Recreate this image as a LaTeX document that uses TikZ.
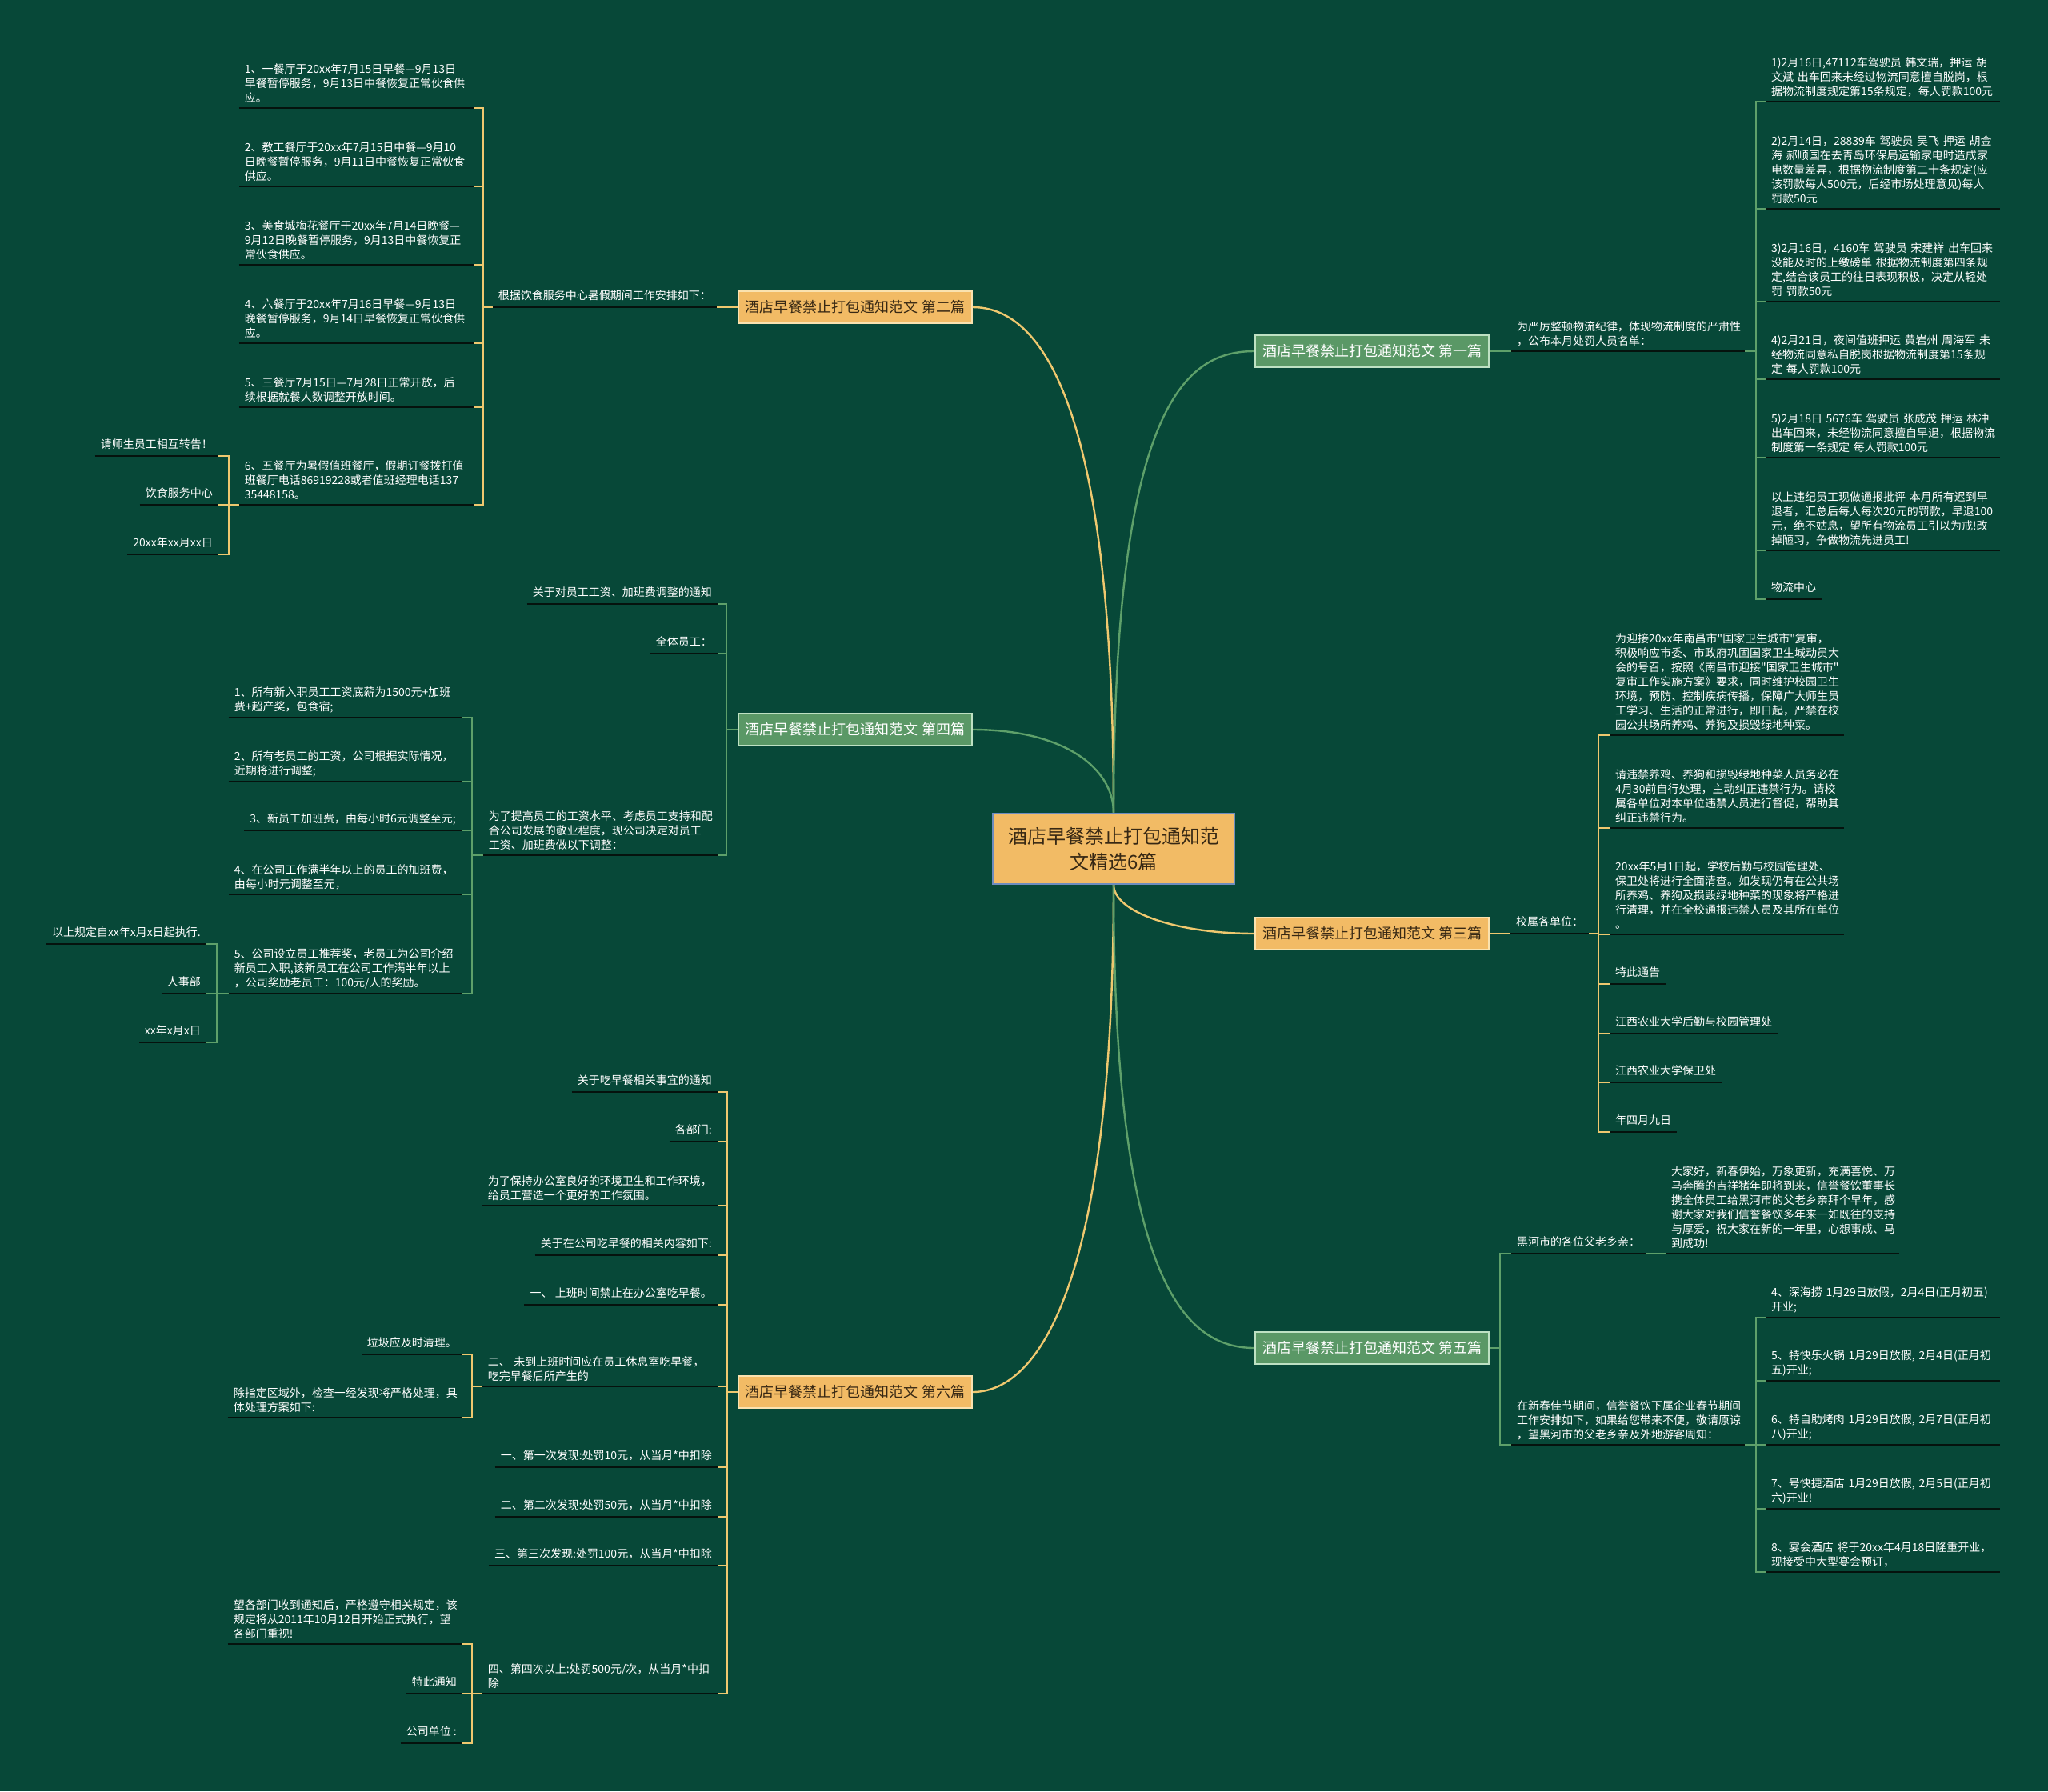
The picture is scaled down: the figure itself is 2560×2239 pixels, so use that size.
\documentclass[tikz,border=0pt]{standalone}
\usepackage{fontspec}
\newfontfamily\cjk{Noto Sans CJK SC}
\definecolor{bgc}{RGB}{7,72,56}
\definecolor{orng}{RGB}{242,187,101}
\definecolor{orngb}{RGB}{250,226,175}
\definecolor{gfill}{RGB}{90,152,102}
\definecolor{gbord}{RGB}{190,225,195}
\definecolor{ylc}{RGB}{239,200,111}
\definecolor{grc}{RGB}{94,160,106}
\definecolor{ulc}{RGB}{5,18,13}
\definecolor{dtext}{RGB}{55,40,20}
\definecolor{rootb}{RGB}{110,140,190}
\pgfdeclarelayer{bglayer}
\pgfdeclarelayer{conn}
\pgfsetlayers{bglayer,conn,main}
\newcommand\leaffont{\cjk\fontsize{14}{18}\selectfont}
\tikzset{
  uline/.style={draw=ulc, line width=2.6pt},
  leaf/.style={font=\leaffont, text=white, inner xsep=7pt, inner ysep=6pt, align=left,
    append after command={(\tikzlastnode.south west) edge[uline] (\tikzlastnode.south east)}},
  lleaf/.style={leaf, anchor=south east, text depth=3pt},
  rleaf/.style={leaf, anchor=south west, text depth=3pt},
  lmleaf/.style={leaf, anchor=south east, text width=#1},
  rmleaf/.style={leaf, anchor=south west, text width=#1},
  yl/.style={draw=ylc, line width=2pt},
  gr/.style={draw=grc, line width=2pt},
  ycurve/.style={draw=ylc, line width=2.4pt},
  gcurve/.style={draw=grc, line width=2.4pt},
  bnode/.style={rectangle, minimum width=292pt, minimum height=40pt, inner sep=0pt, line width=1.5pt, font=\cjk\fontsize{18}{22}\selectfont},
  onode/.style={bnode, fill=orng, draw=orngb, text=dtext},
  gnode/.style={bnode, fill=gfill, draw=gbord, text=white},
  rootnode/.style={rectangle, minimum width=302pt, minimum height=88pt, inner sep=0pt, fill=orng, draw=rootb, line width=1.5pt, text=dtext, align=center, font=\cjk\fontsize{24}{32}\selectfont}
}
\begin{document}
\begin{tikzpicture}[x=1pt,y=-1pt]
\useasboundingbox (0,0) rectangle (2560,2239);
\begin{pgfonlayer}{bglayer}
\fill[bgc] (0,0) rectangle (2560,2239);
\end{pgfonlayer}

% root and main branches
\node[rootnode] (root) at (1392,1061) {酒店早餐禁止打包通知范\\文精选6篇};
\node[onode] (n2) at (1069,384) {酒店早餐禁止打包通知范文 第二篇};
\node[gnode] (n4) at (1069,912) {酒店早餐禁止打包通知范文 第四篇};
\node[onode] (n6) at (1069,1740) {酒店早餐禁止打包通知范文 第六篇};
\node[gnode] (n1) at (1715,439) {酒店早餐禁止打包通知范文 第一篇};
\node[onode] (n3) at (1715,1167) {酒店早餐禁止打包通知范文 第三篇};
\node[gnode] (n5) at (1715,1685) {酒店早餐禁止打包通知范文 第五篇};

% ---------- branch 2 ----------
\node[lleaf] (a) at (896,384) {根据饮食服务中心暑假期间工作安排如下：};
\node[lmleaf=279pt] (a1) at (592,135) {1、一餐厅于20xx年7月15日早餐—9月13日\\早餐暂停服务，9月13日中餐恢复正常伙食供\\应。};
\node[lmleaf=279pt] (a2) at (592,233) {2、教工餐厅于20xx年7月15日中餐—9月10\\日晚餐暂停服务，9月11日中餐恢复正常伙食\\供应。};
\node[lmleaf=279pt] (a3) at (592,331) {3、美食城梅花餐厅于20xx年7月14日晚餐—\\9月12日晚餐暂停服务，9月13日中餐恢复正\\常伙食供应。};
\node[lmleaf=279pt] (a4) at (592,429) {4、六餐厅于20xx年7月16日早餐—9月13日\\晚餐暂停服务，9月14日早餐恢复正常伙食供\\应。};
\node[lmleaf=279pt] (a5) at (592,509) {5、三餐厅7月15日—7月28日正常开放，后\\续根据就餐人数调整开放时间。};
\node[lmleaf=279pt] (a6) at (592,631) {6、五餐厅为暑假值班餐厅，假期订餐拨打值\\班餐厅电话86919228或者值班经理电话137\\35448158。};
\node[lleaf] (a6x) at (273,570) {请师生员工相互转告！};
\node[lleaf] (a6y) at (273,631) {饮食服务中心};
\node[lleaf] (a6z) at (273,693) {20xx年xx月xx日};

% ---------- branch 4 ----------
\node[lleaf] (d1) at (897,755) {关于对员工工资、加班费调整的通知};
\node[lleaf] (d2) at (897,817) {全体员工：};
\node[lmleaf=279pt] (d3) at (897,1069) {为了提高员工的工资水平、考虑员工支持和配\\合公司发展的敬业程度，现公司决定对员工\\工资、加班费做以下调整：};
\node[lmleaf=277pt] (b1) at (577,897) {1、所有新入职员工工资底薪为1500元+加班\\费+超产奖，包食宿;};
\node[lmleaf=277pt] (b2) at (577,977) {2、所有老员工的工资，公司根据实际情况，\\近期将进行调整;};
\node[lleaf] (b3) at (577,1038) {3、新员工加班费，由每小时6元调整至元;};
\node[lmleaf=277pt] (b4) at (577,1118) {4、在公司工作满半年以上的员工的加班费，\\由每小时元调整至元，};
\node[lmleaf=277pt] (b5) at (577,1242) {5、公司设立员工推荐奖，老员工为公司介绍\\新员工入职,该新员工在公司工作满半年以上\\，公司奖励老员工：100元/人的奖励。};
\node[lleaf] (c1) at (258,1180) {以上规定自xx年x月x日起执行.};
\node[lleaf] (c2) at (258,1242) {人事部};
\node[lleaf] (c3) at (258,1303) {xx年x月x日};

% ---------- branch 6 ----------
\node[lleaf] (f1) at (897,1365) {关于吃早餐相关事宜的通知};
\node[lleaf] (f2) at (897,1427) {各部门:};
\node[lmleaf=280pt] (f3) at (897,1507) {为了保持办公室良好的环境卫生和工作环境，\\给员工营造一个更好的工作氛围。};
\node[lleaf] (f4) at (897,1569) {关于在公司吃早餐的相关内容如下:};
\node[lleaf] (f5) at (897,1631) {一、 上班时间禁止在办公室吃早餐。};
\node[lmleaf=280pt] (f6) at (897,1733) {二、~未到上班时间应在员工休息室吃早餐，\\吃完早餐后所产生的};
\node[lleaf] (f7) at (897,1834) {一、第一次发现:处罚10元，从当月*中扣除};
\node[lleaf] (f8) at (897,1896) {二、第二次发现:处罚50元，从当月*中扣除};
\node[lleaf] (f9) at (897,1957) {三、第三次发现:处罚100元，从当月*中扣除};
\node[lmleaf=280pt] (f10) at (897,2117) {四、第四次以上:处罚500元/次，从当月*中扣\\除};
\node[lleaf] (e1) at (578,1693) {垃圾应及时清理。};
\node[lmleaf=279pt] (e2) at (578,1772) {除指定区域外，检查一经发现将严格处理，具\\体处理方案如下:};
\node[lmleaf=279pt] (e3) at (578,2055) {望各部门收到通知后，严格遵守相关规定，该\\规定将从2011年10月12日开始正式执行，望\\各部门重视!};
\node[lleaf] (e4) at (578,2117) {特此通知};
\node[lleaf] (e5) at (578,2179) {公司单位 :};

% ---------- branch 1 ----------
\node[rmleaf=278pt] (F) at (1889,439) {为严厉整顿物流纪律，体现物流制度的严肃性\\，公布本月处罚人员名单：};
\node[rmleaf=279pt] (g1) at (2207,127) {1)2月16日,47112车驾驶员~韩文瑞，押运~胡\\文斌~出车回来未经过物流同意擅自脱岗，根\\据物流制度规定第15条规定，每人罚款100元};
\node[rmleaf=279pt] (g2) at (2207,261) {2)2月14日，28839车~驾驶员~吴飞~押运~胡金\\海~郝顺国在去青岛环保局运输家电时造成家\\电数量差异，根据物流制度第二十条规定(应\\该罚款每人500元，后经市场处理意见)每人\\罚款50元};
\node[rmleaf=279pt] (g3) at (2207,377) {3)2月16日，4160车~驾驶员~宋建祥~出车回来\\没能及时的上缴磅单~根据物流制度第四条规\\定,结合该员工的往日表现积极，决定从轻处\\罚~罚款50元};
\node[rmleaf=279pt] (g4) at (2207,474) {4)2月21日，夜间值班押运~黄岩州~周海军~未\\经物流同意私自脱岗根据物流制度第15条规\\定~每人罚款100元};
\node[rmleaf=279pt] (g5) at (2207,572) {5)2月18日~5676车~驾驶员~张成茂~押运~林冲\\出车回来，未经物流同意擅自早退，根据物流\\制度第一条规定~每人罚款100元};
\node[rmleaf=279pt] (g6) at (2207,688) {以上违纪员工现做通报批评~本月所有迟到早\\退者，汇总后每人每次20元的罚款，早退100\\元，绝不姑息，望所有物流员工引以为戒!改\\掉陋习，争做物流先进员工!};
\node[rleaf] (g7) at (2207,749) {物流中心};

% ---------- branch 3 ----------
\node[rleaf] (K) at (1888,1167) {校属各单位：};
\node[rmleaf=279pt] (k1) at (2012,919) {为迎接20xx年南昌市"国家卫生城市"复审，\\积极响应市委、市政府巩固国家卫生城动员大\\会的号召，按照《南昌市迎接"国家卫生城市"\\复审工作实施方案》要求，同时维护校园卫生\\环境，预防、控制疾病传播，保障广大师生员\\工学习、生活的正常进行，即日起，严禁在校\\园公共场所养鸡、养狗及损毁绿地种菜。};
\node[rmleaf=279pt] (k2) at (2012,1035) {请违禁养鸡、养狗和损毁绿地种菜人员务必在\\4月30前自行处理，主动纠正违禁行为。请校\\属各单位对本单位违禁人员进行督促，帮助其\\纠正违禁行为。};
\node[rmleaf=279pt] (k3) at (2012,1168) {20xx年5月1日起，学校后勤与校园管理处、\\保卫处将进行全面清查。如发现仍有在公共场\\所养鸡、养狗及损毁绿地种菜的现象将严格进\\行清理，并在全校通报违禁人员及其所在单位\\。};
\node[rleaf] (k4) at (2012,1230) {特此通告};
\node[rleaf] (k5) at (2012,1292) {江西农业大学后勤与校园管理处};
\node[rleaf] (k6) at (2012,1353) {江西农业大学保卫处};
\node[rleaf] (k7) at (2012,1415) {年四月九日};

% ---------- branch 5 ----------
\node[rleaf] (H1) at (1889,1567) {黑河市的各位父老乡亲：};
\node[rmleaf=278pt] (H1a) at (2082,1567) {大家好，新春伊始，万象更新，充满喜悦、万\\马奔腾的吉祥猪年即将到来，信誉餐饮董事长\\携全体员工给黑河市的父老乡亲拜个早年，感\\谢大家对我们信誉餐饮多年来一如既往的支持\\与厚爱，祝大家在新的一年里，心想事成、马\\到成功!};
\node[rmleaf=278pt] (H2) at (1889,1806) {在新春佳节期间，信誉餐饮下属企业春节期间\\工作安排如下，如果给您带来不便，敬请原谅\\，望黑河市的父老乡亲及外地游客周知：};
\node[rmleaf=279pt] (h1) at (2207,1647) {4、深海捞~1月29日放假，2月4日(正月初五)\\开业;};
\node[rmleaf=279pt] (h2) at (2207,1726) {5、特快乐火锅~1月29日放假,~2月4日(正月初\\五)开业;};
\node[rmleaf=279pt] (h3) at (2207,1806) {6、特自助烤肉~1月29日放假,~2月7日(正月初\\八)开业;};
\node[rmleaf=279pt] (h4) at (2207,1886) {7、号快捷酒店~1月29日放假,~2月5日(正月初\\六)开业!};
\node[rmleaf=279pt] (h5) at (2207,1965) {8、宴会酒店~将于20xx年4月18日隆重开业，\\现接受中大型宴会预订，};

% ---------- connectors ----------
\begin{pgfonlayer}{conn}
\draw[ycurve] (root.north) .. controls (1392,500) and (1300,384) .. (n2.east);
\draw[gcurve] (root.north) .. controls (1392,960) and (1330,912) .. (n4.east);
\draw[ycurve] (root.south) .. controls (1392,1600) and (1300,1740) .. (n6.east);
\draw[gcurve] (root.north) .. controls (1392,500) and (1484,439) .. (n1.west);
\draw[ycurve] (root.south) .. controls (1392,1140) and (1470,1167) .. (n3.west);
\draw[gcurve] (root.south) .. controls (1392,1600) and (1480,1685) .. (n5.west);

\draw[yl] (n2.west) -- (a.south east);
\foreach \c in {a1,a2,a3,a4,a5,a6} \draw[yl] (a.south west) -- (604,384) |- (\c.south east);
\foreach \c in {a6x,a6y,a6z} \draw[yl] (a6.south west) -- (286,631) |- (\c.south east);

\foreach \c in {d1,d2,d3} \draw[gr] (n4.west) -- (908,912) |- (\c.south east);
\foreach \c in {b1,b2,b3,b4,b5} \draw[gr] (d3.south west) -- (590,1069) |- (\c.south east);
\foreach \c in {c1,c2,c3} \draw[gr] (b5.south west) -- (271,1242) |- (\c.south east);

\foreach \c in {f1,f2,f3,f4,f5,f6,f7,f8,f9,f10} \draw[yl] (n6.west) -- (909,1740) |- (\c.south east);
\foreach \c in {e1,e2} \draw[yl] (f6.south west) -- (590,1733) |- (\c.south east);
\foreach \c in {e3,e4,e5} \draw[yl] (f10.south west) -- (590,2117) |- (\c.south east);

\draw[gr] (n1.east) -- (F.south west);
\foreach \c in {g1,g2,g3,g4,g5,g6,g7} \draw[gr] (F.south east) -- (2195,439) |- (\c.south west);

\draw[yl] (n3.east) -- (K.south west);
\foreach \c in {k1,k2,k3,k4,k5,k6,k7} \draw[yl] (K.south east) -- (1998,1167) |- (\c.south west);

\foreach \c in {H1,H2} \draw[gr] (n5.east) -- (1875,1685) |- (\c.south west);
\draw[gr] (H1.south east) -- (H1a.south west);
\foreach \c in {h1,h2,h3,h4,h5} \draw[gr] (H2.south east) -- (2195,1806) |- (\c.south west);
\end{pgfonlayer}
\end{tikzpicture}
\end{document}
